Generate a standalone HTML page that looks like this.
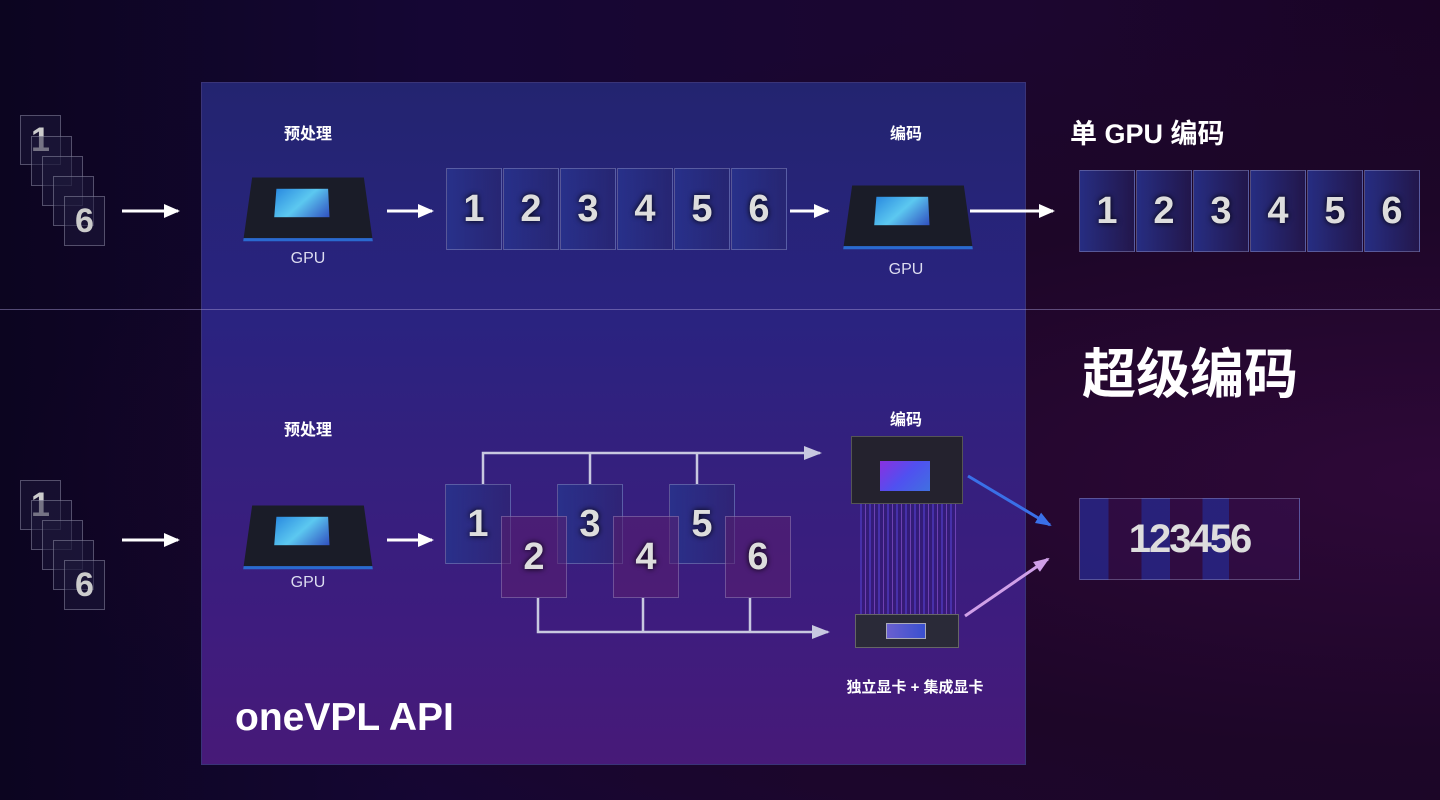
<!DOCTYPE html>
<html><head><meta charset="utf-8"><style>
*{margin:0;padding:0;box-sizing:border-box}
body{width:1440px;height:800px;overflow:hidden;position:relative;font-family:"Liberation Sans","Noto Sans CJK SC",sans-serif;
background:radial-gradient(ellipse at 100% 60%,#2e0838 0%,#1d0628 40%,transparent 70%),linear-gradient(90deg,#0c0520 0%,#150634 30%,#1c0630 70%,#1a0425 100%);}
.abs{position:absolute}
#panel{left:201px;top:82px;width:825px;height:683px;background:linear-gradient(180deg,#232470 0%,#2a2380 35%,#34207e 55%,#3e1c7e 80%,#471a78 100%);border:1px solid #3a3478}
.hl{left:0;top:309px;width:1440px;height:1px;background:rgba(170,160,220,.45)}
.lab{color:#fff;font-weight:bold;font-size:16px;text-align:center}
.gpu{color:#dcdcf0;font-size:16px;text-align:center}
.fr{position:absolute;width:56px;height:82px;border:1px solid rgba(180,180,220,.35);background:linear-gradient(90deg,rgba(40,50,140,.9),rgba(40,40,110,.5));color:#ddd;font-size:38px;font-weight:bold;display:flex;align-items:center;justify-content:center;text-shadow:0 0 6px #000}
.sf{position:absolute;width:41px;height:50px;border:1px solid rgba(200,200,220,.35);background:rgba(30,25,60,.5);color:#ccc;font-size:34px;font-weight:bold;display:flex;align-items:center;justify-content:center}
.chip{position:absolute;width:120px;height:70px}
</style></head><body>
<div id="panel" class="abs"></div>
<div class="abs hl"></div>

<div class="sf" style="left:20px;top:115px">1</div>
<div class="sf" style="left:31px;top:136px"></div>
<div class="sf" style="left:42px;top:156px"></div>
<div class="sf" style="left:53px;top:176px"></div>
<div class="sf" style="left:64px;top:196px">6</div>
<div class="sf" style="left:20px;top:480px">1</div>
<div class="sf" style="left:31px;top:500px"></div>
<div class="sf" style="left:42px;top:520px"></div>
<div class="sf" style="left:53px;top:540px"></div>
<div class="sf" style="left:64px;top:560px">6</div>

<svg class="abs" style="left:0;top:0" width="1440" height="800">
<defs>
<marker id="w" markerUnits="userSpaceOnUse" markerWidth="16" markerHeight="16" refX="14" refY="8" orient="auto"><path d="M0,1L16,8L0,15z" fill="#fff"/></marker>
<marker id="g" markerUnits="userSpaceOnUse" markerWidth="18" markerHeight="16" refX="16" refY="8" orient="auto"><path d="M0,1L18,8L0,15z" fill="#c8c8e0"/></marker>
<marker id="b" markerUnits="userSpaceOnUse" markerWidth="16" markerHeight="16" refX="14" refY="8" orient="auto"><path d="M0,2L16,8L0,14z" fill="#3a70e8"/></marker>
<marker id="p" markerUnits="userSpaceOnUse" markerWidth="16" markerHeight="16" refX="14" refY="8" orient="auto"><path d="M0,2L16,8L0,14z" fill="#d0a0e8"/></marker>
</defs>
<g stroke="#fff" stroke-width="3" marker-end="url(#w)">
<line x1="122" y1="211" x2="178" y2="211"/>
<line x1="387" y1="211" x2="432" y2="211"/>
<line x1="790" y1="211" x2="828" y2="211"/>
<line x1="970" y1="211" x2="1053" y2="211"/>
<line x1="122" y1="540" x2="178" y2="540"/>
<line x1="387" y1="540" x2="432" y2="540"/>
</g>
<g stroke="#c8c8e0" stroke-width="2.5" fill="none">
<polyline points="483,484 483,453 820,453" marker-end="url(#g)"/>
<line x1="590" y1="453" x2="590" y2="484"/>
<line x1="697" y1="453" x2="697" y2="484"/>
<polyline points="538,598 538,632 828,632" marker-end="url(#g)"/>
<line x1="643" y1="598" x2="643" y2="632"/>
<line x1="750" y1="598" x2="750" y2="632"/>
</g>
<line x1="968" y1="476" x2="1050" y2="525" stroke="#3a70e8" stroke-width="3" marker-end="url(#b)"/>
<line x1="965" y1="616" x2="1048" y2="559" stroke="#d0a0e8" stroke-width="3" marker-end="url(#p)"/>
</svg>

<div class="abs lab" style="left:258px;top:120px;width:100px">预处理</div>
<div class="abs lab" style="left:856px;top:120px;width:100px">编码</div>
<div class="abs lab" style="left:258px;top:416px;width:100px">预处理</div>
<div class="abs lab" style="left:856px;top:406px;width:100px">编码</div>
<div class="abs" style="left:1070px;top:112px;color:#fff;font-size:27px;font-weight:bold">单 GPU 编码</div>
<div class="abs" style="left:1082px;top:330px;color:#fff;font-size:54px;font-weight:bold">超级编码</div>
<div class="abs lab" style="left:810px;top:676px;width:210px;font-size:15px">独立显卡 + 集成显卡</div>
<div class="abs" style="left:235px;top:696px;color:#fff;font-size:39px;font-weight:bold">oneVPL API</div>

<div class="chip" style="left:248px;top:172px;background:#1a1c28;transform:perspective(200px) rotateX(25deg);border-bottom:3px solid #2a6ad0"><div class="abs" style="left:27px;top:14px;width:54px;height:32px;background:linear-gradient(135deg,#2a8ae0,#5cc8f0,#3050c0)"></div></div>
<div class="abs gpu" style="left:258px;top:250px;width:100px">GPU</div>
<div class="chip" style="left:848px;top:180px;background:#1a1c28;transform:perspective(200px) rotateX(25deg);border-bottom:3px solid #2a6ad0"><div class="abs" style="left:27px;top:14px;width:54px;height:32px;background:linear-gradient(135deg,#2a8ae0,#5cc8f0,#3050c0)"></div></div>
<div class="abs gpu" style="left:856px;top:261px;width:100px">GPU</div>
<div class="chip" style="left:248px;top:500px;background:#1a1c28;transform:perspective(200px) rotateX(25deg);border-bottom:3px solid #2a6ad0"><div class="abs" style="left:27px;top:14px;width:54px;height:32px;background:linear-gradient(135deg,#2a8ae0,#5cc8f0,#3050c0)"></div></div>
<div class="abs gpu" style="left:258px;top:574px;width:100px">GPU</div>

<div class="abs" style="left:851px;top:436px;width:112px;height:68px;background:#24222e;border:1px solid #555"><div class="abs" style="left:28px;top:24px;width:50px;height:30px;background:linear-gradient(135deg,#8a30e0,#5050f0,#4070e0)"></div></div>
<div class="abs" style="left:860px;top:504px;width:96px;height:112px;background:repeating-linear-gradient(90deg,rgba(80,60,200,.6) 0 2px,rgba(40,20,110,.3) 2px 5px,rgba(160,100,230,.5) 5px 6px,rgba(30,20,90,.2) 6px 9px)"></div>
<div class="abs" style="left:855px;top:614px;width:104px;height:34px;background:#2a2a38;border:1px solid #666"><div class="abs" style="left:30px;top:8px;width:40px;height:16px;background:linear-gradient(90deg,#6a60d0,#3a50d0);border:1px solid #aab"></div></div>

<div class="fr" style="left:446px;top:168px">1</div>
<div class="fr" style="left:503px;top:168px">2</div>
<div class="fr" style="left:560px;top:168px">3</div>
<div class="fr" style="left:617px;top:168px">4</div>
<div class="fr" style="left:674px;top:168px">5</div>
<div class="fr" style="left:731px;top:168px">6</div>
<div class="fr" style="left:1079px;top:170px">1</div>
<div class="fr" style="left:1136px;top:170px">2</div>
<div class="fr" style="left:1193px;top:170px">3</div>
<div class="fr" style="left:1250px;top:170px">4</div>
<div class="fr" style="left:1307px;top:170px">5</div>
<div class="fr" style="left:1364px;top:170px">6</div>

<div class="fr" style="left:445px;top:484px;width:66px;height:80px">1</div>
<div class="fr" style="left:557px;top:484px;width:66px;height:80px">3</div>
<div class="fr" style="left:669px;top:484px;width:66px;height:80px">5</div>
<div class="fr" style="left:501px;top:516px;width:66px;height:82px;background:rgba(90,30,110,.55)">2</div>
<div class="fr" style="left:613px;top:516px;width:66px;height:82px;background:rgba(90,30,110,.55)">4</div>
<div class="fr" style="left:725px;top:516px;width:66px;height:82px;background:rgba(90,30,110,.55)">6</div>

<div class="abs" style="left:1079px;top:498px;width:221px;height:82px;border:1px solid rgba(180,180,220,.35);background:linear-gradient(90deg,rgba(40,40,140,.8) 0 13%,rgba(60,20,90,.4) 13% 28%,rgba(40,40,140,.8) 28% 41%,rgba(60,20,90,.4) 41% 56%,rgba(40,40,140,.8) 56% 68%,rgba(60,20,90,.4) 68%);color:#ddd;font-size:40px;font-weight:bold;display:flex;align-items:center;justify-content:center;letter-spacing:-2px">123456</div>
</body></html>
